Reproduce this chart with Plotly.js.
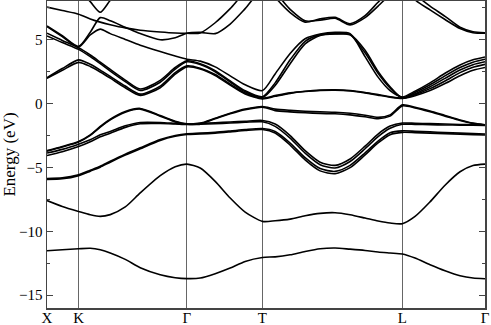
<!DOCTYPE html>
<html>
<head>
<meta charset="utf-8">
<script src="https://cdn.plot.ly/plotly-3.0.1.min.js"></script>
<style>
  body { margin: 0; background: #fff; }
  #plot { width: 491px; height: 325px; }
</style>
</head>
<body>
<div id="plot"></div>
<script>
// k-path sample positions (path length units) and the high symmetry points
const kpath = [0, 15.3, 31.6, 43.3, 53.3, 63.3, 78.3, 93.3, 113.3, 128.3, 140,
  153.3, 168.3, 183.3, 198.3, 215.6, 228.3, 243.3, 258.3, 273.3, 288.3, 303.3,
  318.3, 331.3, 343.3, 355.6, 368.3, 383.3, 398.3, 413.3, 426.3, 438.3];
const kTicks = [0, 31.6, 140, 215.6, 355.6, 438.3];
const kLabels = ["X", "K", "Γ", "T", "L", "Γ"];

// band energies (eV) at each kpath sample
const band1 = [-11.52, -11.45, -11.37, -11.33, -11.45, -11.7, -12.2, -12.85, -13.4, -13.63, -13.7,
  -13.66, -13.32, -12.88, -12.36, -12.05, -12.0, -11.84, -11.58, -11.37, -11.31, -11.4,
  -11.5, -11.62, -11.7, -11.78, -12.1, -12.62, -13.09, -13.48, -13.66, -13.71];
const band2 = [-7.6, -8.06, -8.45, -8.71, -8.84, -8.7, -8.1, -7.0, -5.65, -4.95, -4.75,
  -5.06, -6.1, -7.4, -8.5, -9.23, -9.18, -9.05, -8.79, -8.6, -8.55, -8.71,
  -8.97, -9.2, -9.36, -9.41, -8.84, -7.7, -6.4, -5.35, -4.86, -4.75];
const band3a = [-5.88, -5.83, -5.58, -5.23, -4.92, -4.53, -3.98, -3.48, -2.83, -2.52, -2.38,
  -2.33, -2.26, -2.16, -2.05, -1.97, -2.2, -3.1, -4.25, -5.1, -5.32, -4.85,
  -3.87, -2.95, -2.3, -2.15, -2.18, -2.23, -2.28, -2.33, -2.37, -2.4];
const band3b = [-5.95, -5.9, -5.65, -5.3, -4.99, -4.6, -4.05, -3.55, -2.9, -2.58, -2.44,
  -2.4, -2.33, -2.23, -2.12, -2.05, -2.32, -3.26, -4.42, -5.28, -5.5, -5.03,
  -4.03, -3.1, -2.45, -2.27, -2.29, -2.33, -2.37, -2.41, -2.45, -2.48];
const band4a = [-4.08, -3.78, -3.38, -3.0, -2.62, -2.33, -1.88, -1.6, -1.58, -1.62, -1.66,
  -1.64, -1.6, -1.54, -1.48, -1.44, -1.8, -2.72, -3.9, -4.8, -5.05, -4.55,
  -3.55, -2.6, -1.95, -1.64, -1.65, -1.67, -1.69, -1.7, -1.71, -1.72];
const band4b = [-3.89, -3.6, -3.19, -2.85, -2.46, -2.2, -1.76, -1.5, -1.5, -1.57, -1.62,
  -1.58, -1.52, -1.46, -1.4, -1.34, -1.62, -2.52, -3.7, -4.6, -4.85, -4.35,
  -3.35, -2.4, -1.78, -1.54, -1.56, -1.59, -1.62, -1.65, -1.67, -1.68];
const band5a = [-3.74, -3.42, -3.03, -2.51, -1.86, -1.29, -0.69, -0.45, -1.0, -1.45, -1.63,
  -1.6, -1.21, -0.82, -0.5, -0.3, -0.57, -0.67, -0.74, -0.79, -0.82, -0.9,
  -1.05, -1.2, -1.0, -0.2, -0.36, -0.66, -1.0, -1.35, -1.58, -1.7];
const band5b = [-3.69, -3.37, -2.98, -2.46, -1.81, -1.24, -0.64, -0.4, -0.95, -1.4, -1.6,
  -1.55, -1.16, -0.77, -0.45, -0.25, -0.45, -0.55, -0.62, -0.67, -0.7, -0.78,
  -0.93, -1.1, -0.9, -0.12, -0.3, -0.6, -0.95, -1.3, -1.55, -1.68];
const band6a = [1.95, 2.58, 3.2, 2.88, 2.45, 1.97, 1.22, 0.62, 1.22, 2.28, 2.85,
  2.68, 2.17, 1.43, 0.73, 0.35, 0.55, 0.78, 0.92, 1.0, 1.02, 0.97,
  0.82, 0.64, 0.48, 0.38, 0.6, 1.0, 1.55, 2.15, 2.58, 2.8];
const band6b = [2.0, 2.72, 3.4, 3.05, 2.6, 2.1, 1.35, 0.72, 1.35, 2.4, 2.93,
  2.75, 2.25, 1.5, 0.8, 0.4, 0.6, 0.82, 0.95, 1.03, 1.05, 1.0,
  0.85, 0.68, 0.52, 0.42, 0.68, 1.15, 1.75, 2.4, 2.82, 3.05];
const band7a = [5.27, 4.75, 4.22, 3.65, 3.1, 2.52, 1.7, 1.0, 1.65, 2.68, 3.25,
  3.03, 2.47, 1.67, 0.9, 0.45, 1.4, 3.1, 4.65, 5.3, 5.42, 5.38,
  4.15, 2.5, 1.3, 0.4, 0.75, 1.3, 1.95, 2.6, 3.02, 3.25];
const band7b = [5.48, 4.92, 4.35, 3.78, 3.22, 2.65, 1.82, 1.12, 1.8, 2.8, 3.32,
  3.1, 2.55, 1.75, 0.98, 0.52, 1.6, 3.4, 4.85, 5.35, 5.45, 5.35,
  3.95, 2.35, 1.2, 0.45, 0.85, 1.45, 2.15, 2.8, 3.22, 3.45];
const band8 = [6.0, 5.22, 4.4, 5.35, 5.8, 5.45, 5.0, 4.55, 4.05, 3.7, 3.45,
  3.3, 2.85, 2.15, 1.45, 1.0, 2.3, 3.9, 5.05, 5.42, 5.55, 5.45,
  3.65, 2.05, 1.0, 0.5, 0.95, 1.6, 2.35, 3.0, 3.4, 3.62];
const band9 = [6.05, 5.28, 4.45, 5.56, 6.7, 6.45, 5.95, 5.45, 4.97, 5.12, 5.48,
  5.55, 5.45, 6.2, 7.4, 8.9, 8.6, 7.35, 6.45, 6.5, 6.65, 6.13,
  6.7, 7.6, 8.5, 9.3, 8.5, 7.6, 6.8, 5.95, 5.6, 5.52];
const band10 = [7.52, 7.25, 6.97, 6.6, 6.35, 6.15, 5.9, 5.72, 5.58, 5.5, 5.48,
  5.5, 6.3, 7.4, 8.7, 9.6, 8.3, 7.1, 6.35, 6.6, 6.72, 6.22,
  6.85, 7.9, 8.8, 9.5, 8.1, 7.3, 6.55, 5.85, 5.52, 5.48];
const band11 = [null, null, 8.9, 7.95, 7.12, 8.05, 9.2, null, null, null, null,
  null, null, null, null, null, null, null, null, null, null, null,
  null, null, null, null, null, null, null, null, null, null];

const bands = [band1, band2, band3a, band3b, band4a, band4b, band5a, band5b,
  band6a, band6b, band7a, band7b, band8, band9, band10, band11];

// one black line per band
let data = bands.map(e => ({
  x: kpath,
  y: e,
  type: "scatter",
  mode: "lines",
  line: { color: "black", width: 1.6, shape: "spline", smoothing: 0.7 },
  hoverinfo: "skip"
}));

let serif = "Liberation Serif, Times New Roman, serif";

let layout = {
  width: 491,
  height: 325,
  margin: { l: 47, r: 6, t: 1, b: 17 },
  showlegend: false,
  paper_bgcolor: "white",
  plot_bgcolor: "white",
  xaxis: {
    range: [0, 438.3],
    tickmode: "array",
    tickvals: kTicks,
    ticktext: kLabels,
    ticks: "",
    ticklabelstandoff: -5,
    showgrid: true,
    gridcolor: "#666",
    gridwidth: 1,
    zeroline: false,
    showline: true,
    linecolor: "#444",
    linewidth: 1.5,
    mirror: true,
    tickfont: { family: serif, size: 15, color: "black" }
  },
  yaxis: {
    range: [-16, 8],
    tick0: 0,
    dtick: 5,
    ticks: "inside",
    ticklen: 6,
    tickwidth: 1,
    tickcolor: "#444",
    minor: { dtick: 2.5, ticks: "inside", ticklen: 3, tickcolor: "#444" },
    showgrid: false,
    zeroline: false,
    showline: true,
    linecolor: "#444",
    linewidth: 1.5,
    mirror: "allticks",
    tickfont: { family: serif, size: 15, color: "black" },
    title: { text: "Energy (eV)", font: { family: serif, size: 17, color: "black" }, standoff: 4 }
  }
};

Plotly.newPlot("plot", data, layout, { staticPlot: true });
</script>
</body>
</html>
